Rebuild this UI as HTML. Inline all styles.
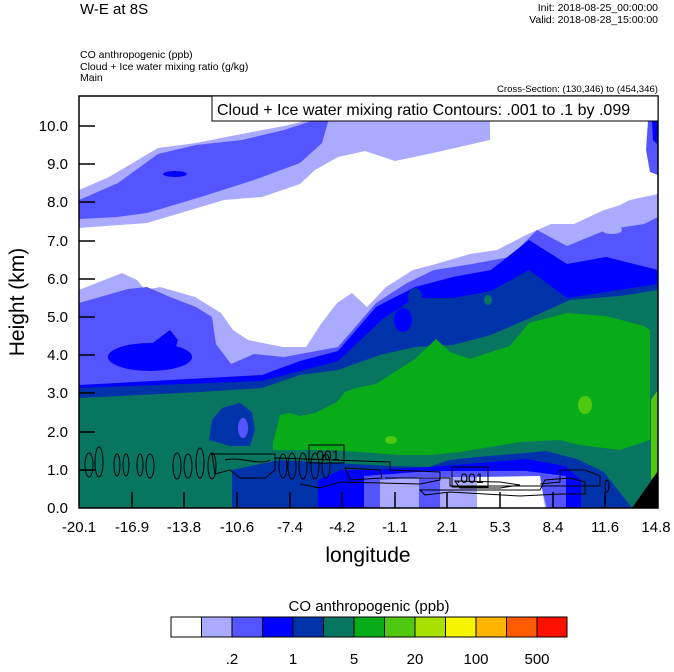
<!DOCTYPE html>
<html><head><meta charset="utf-8"><style>
body{margin:0;background:#fff;width:674px;height:667px;overflow:hidden}
svg text{font-family:"Liberation Sans",sans-serif}
</style></head><body>
<svg width="674" height="667" viewBox="0 0 674 667" xmlns="http://www.w3.org/2000/svg">
<defs><clipPath id="c"><rect x="79" y="96" width="579" height="412"/></clipPath></defs>
<g clip-path="url(#c)">
<rect x="79" y="96" width="579" height="412" fill="#fff"/>
<polygon fill="#aaaaff" points="79,190 109,177 158,148 196,143 231,136 284,126 330,115 490,115 490,140 433,153 395,161 365,151 338,157 315,170 300,184 262,197 224,200 147,223 79,228"/>
<polygon fill="#5555ff" points="79,200 118,183 158,154 196,145 242,140 284,130 330,115 322,143 300,163 254,180 204,196 147,213 117,217 79,219"/>
<ellipse cx="175" cy="174" rx="12" ry="3" fill="#0000ff"/>
<polygon fill="#aaaaff" points="658,194 630,200 610,210 610,230 658,230"/>
<polygon fill="#5555ff" points="648,121 658,121 658,175 650,172 646,150"/>
<polygon fill="#0000ff" points="652,121 658,121 658,145 653,140"/>
<polygon fill="#aaaaff" points="79,290 122,273 137,280 145,290 160,287 195,297 221,313 233,330 248,340 283,347 306,347 321,324 337,303 352,293 367,307 386,287 413,270 436,264 470,254 497,250 528,234 551,224 574,224 604,210 658,194 658,508 79,508"/>
<polygon fill="#5555ff" points="79,303 128,289 147,287 170,297 196,307 212,317 216,344 231,364 254,354 284,357 338,347 376,303 407,283 434,270 472,264 510,257 537,230 567,246 606,230 644,224 658,217 658,508 79,508"/>
<ellipse cx="612" cy="230" rx="10" ry="4" fill="#aaaaff"/>
<polygon fill="#0000ff" points="79,385 262,375 300,361 338,351 376,307 415,287 453,277 491,270 529,240 567,264 606,257 658,270 658,508 79,508"/>
<ellipse cx="150" cy="357" rx="42" ry="14" fill="#0000ff"/>
<polygon fill="#0000ff" points="150,345 170,330 178,340 172,360"/>
<polygon fill="#0033aa" points="79,388 262,381 338,361 384,318 415,298 453,298 491,291 529,270 567,298 658,284 658,508 79,508"/>
<ellipse cx="403" cy="320" rx="9" ry="12" fill="#0000ff"/>
<ellipse cx="415" cy="297" rx="7" ry="9" fill="#0033aa"/>
<polygon fill="#087560" points="79,398 200,392 262,388 300,375 338,370 380,355 415,347 453,345 491,335 530,318 570,300 620,296 658,290 658,508 79,508"/>
<ellipse cx="488" cy="300" rx="4" ry="5" fill="#087560"/>
<polygon fill="#0033aa" points="209,440 212,420 222,408 240,403 252,412 255,430 250,446 230,446"/>
<ellipse cx="243" cy="428" rx="5" ry="10" fill="#5555ff"/>
<polygon fill="#08ab18" points="273,443 280,415 290,413 300,416 315,413 337,402 345,392 356,388 376,384 415,359 436,339 450,352 470,359 491,352 510,346 529,323 567,313 606,316 644,326 650,330 650,440 620,450 580,445 560,440 520,442 490,447 460,452 430,455 400,455 360,452 330,450 300,450 273,450"/>
<ellipse cx="391" cy="440" rx="6" ry="4" fill="#50c810"/>
<ellipse cx="585" cy="405" rx="7" ry="9" fill="#50c810"/>
<polygon fill="#50c810" points="651,400 658,390 658,472 651,480"/>
<polygon fill="#0033aa" points="232,508 232,470 279,460 333,463 391,466 429,467 449,460 488,456 526,453 546,451 577,459 604,472 632,508"/>
<polygon fill="#0000ff" points="318,508 318,480 341,470 372,470 429,467 468,464 526,459 565,466 581,480 581,508"/>
<polygon fill="#5555ff" points="364,508 364,476 430,471 526,471 566,476 566,508"/>
<polygon fill="#aaaaff" points="380,508 380,480 422,477 461,477 539,479 547,508"/>
<rect x="419" y="478" width="21" height="30" fill="#5555ff"/>
<polygon fill="#fff" points="477,508 477,477 540,476 545,508"/>
<polygon fill="#000" points="632,508 658,471 658,508"/>
<g fill="none" stroke="#000" stroke-width="1">
<ellipse cx="89" cy="465" rx="4" ry="12"/><ellipse cx="99" cy="462" rx="4" ry="15"/>
<ellipse cx="117" cy="465" rx="3" ry="11"/><ellipse cx="126" cy="465" rx="3" ry="11"/>
<ellipse cx="140" cy="465" rx="3" ry="11"/><ellipse cx="150" cy="466" rx="4" ry="12"/>
<ellipse cx="177" cy="466" rx="4" ry="13"/><ellipse cx="188" cy="466" rx="4" ry="12"/><ellipse cx="200" cy="463" rx="4" ry="15"/>
<ellipse cx="212" cy="466" rx="4" ry="13"/>
<path d="M212,454 L275,454 L275,470 L265,478 L240,478 L230,470 L215,474 Z"/>
<path d="M225,460 C240,456 260,466 270,460"/>
<ellipse cx="283" cy="466" rx="4" ry="12"/><ellipse cx="292" cy="466" rx="4" ry="13"/><ellipse cx="303" cy="466" rx="4" ry="13"/>
<ellipse cx="315" cy="466" rx="4" ry="13"/><ellipse cx="326" cy="466" rx="4" ry="12"/>
<path d="M275,458 L390,462 L390,470 L440,472 L440,480 L420,484 L340,482 L320,488 L300,484"/>
<path d="M345,468 L380,470 L382,478 L350,480 Z"/>
<path d="M385,478 L450,478 L450,486 L600,486 L600,476 L585,470 L560,470 L560,482 L540,484"/>
<path d="M420,490 L540,490 L545,480 L570,478 L585,482 L585,494 L560,494 L520,496 L450,492 L425,495 Z"/>
<path d="M455,481 L500,482 L520,485 L500,488 L460,488 Z"/>
<ellipse cx="607" cy="486" rx="2" ry="6"/>
</g>
<rect x="309" y="445" width="35" height="18" fill="none" stroke="#000"/>
<text x="326" y="460" font-size="14" text-anchor="middle">.001</text>
<rect x="452" y="467" width="36" height="20" fill="none" stroke="#000"/>
<text x="470" y="483" font-size="14" text-anchor="middle">.001</text>
</g>
<rect x="79" y="96" width="579" height="412" fill="none" stroke="#000" stroke-width="1.5"/>
<rect x="212" y="96" width="446" height="25" fill="#fff" stroke="#000" stroke-width="1"/>
<text x="217" y="115" font-size="16">Cloud + Ice water mixing ratio Contours: .001 to .1 by .099</text>
<g stroke="#000" stroke-width="1.5">
<line x1="79" y1="470" x2="95" y2="470"/><line x1="79" y1="432" x2="95" y2="432"/><line x1="79" y1="393" x2="95" y2="393"/>
<line x1="79" y1="355" x2="95" y2="355"/><line x1="79" y1="317" x2="95" y2="317"/><line x1="79" y1="279" x2="95" y2="279"/>
<line x1="79" y1="241" x2="95" y2="241"/><line x1="79" y1="202" x2="95" y2="202"/><line x1="79" y1="164" x2="95" y2="164"/><line x1="79" y1="126" x2="95" y2="126"/>
<line x1="132" y1="508" x2="132" y2="492"/><line x1="184" y1="508" x2="184" y2="492"/><line x1="237" y1="508" x2="237" y2="492"/>
<line x1="290" y1="508" x2="290" y2="492"/><line x1="342" y1="508" x2="342" y2="492"/><line x1="395" y1="508" x2="395" y2="492"/>
<line x1="447" y1="508" x2="447" y2="492"/><line x1="500" y1="508" x2="500" y2="492"/><line x1="553" y1="508" x2="553" y2="492"/><line x1="605" y1="508" x2="605" y2="492"/>
</g>
<g font-size="15" text-anchor="end">
<text x="68" y="513">0.0</text><text x="68" y="475">1.0</text><text x="68" y="437">2.0</text><text x="68" y="398">3.0</text>
<text x="68" y="360">4.0</text><text x="68" y="322">5.0</text><text x="68" y="284">6.0</text><text x="68" y="246">7.0</text>
<text x="68" y="207">8.0</text><text x="68" y="169">9.0</text><text x="68" y="131">10.0</text>
</g>
<g font-size="15" text-anchor="middle">
<text x="79" y="532">-20.1</text><text x="132" y="532">-16.9</text><text x="184" y="532">-13.8</text><text x="237" y="532">-10.6</text>
<text x="290" y="532">-7.4</text><text x="342" y="532">-4.2</text><text x="395" y="532">-1.1</text><text x="447" y="532">2.1</text>
<text x="500" y="532">5.3</text><text x="553" y="532">8.4</text><text x="605" y="532">11.6</text><text x="656" y="532">14.8</text>
</g>
<text x="368" y="562" font-size="21" text-anchor="middle">longitude</text>
<text transform="translate(24,302) rotate(-90)" font-size="21" text-anchor="middle">Height (km)</text>
<text x="80" y="14" font-size="15">W-E at 8S</text>
<text x="658" y="11" font-size="10.5" text-anchor="end">Init: 2018-08-25_00:00:00</text>
<text x="658" y="23" font-size="10.5" text-anchor="end">Valid: 2018-08-28_15:00:00</text>
<text x="80" y="58" font-size="10.5">CO anthropogenic   (ppb)</text>
<text x="80" y="70" font-size="10.5">Cloud + Ice water mixing ratio   (g/kg)</text>
<text x="80" y="81" font-size="10.5">Main</text>
<text x="658" y="92" font-size="9.6" text-anchor="end">Cross-Section: (130,346) to (454,346)</text>
<text x="369" y="611" font-size="15" text-anchor="middle">CO anthropogenic  (ppb)</text>
<g stroke="#000" stroke-width="1">
<rect x="171" y="617" width="30.5" height="20" fill="#fff"/>
<rect x="201.5" y="617" width="30.5" height="20" fill="#aaaaff"/>
<rect x="232" y="617" width="30.5" height="20" fill="#5555ff"/>
<rect x="262.5" y="617" width="30.5" height="20" fill="#0000ff"/>
<rect x="293" y="617" width="30.5" height="20" fill="#0033aa"/>
<rect x="323.5" y="617" width="30.5" height="20" fill="#087560"/>
<rect x="354" y="617" width="30.5" height="20" fill="#08ab18"/>
<rect x="384.5" y="617" width="30.5" height="20" fill="#50c810"/>
<rect x="415" y="617" width="30.5" height="20" fill="#a8e000"/>
<rect x="445.5" y="617" width="30.5" height="20" fill="#f5f500"/>
<rect x="476" y="617" width="30.5" height="20" fill="#ffb400"/>
<rect x="506.5" y="617" width="30.5" height="20" fill="#ff5a00"/>
<rect x="537" y="617" width="30" height="20" fill="#ff1000"/>
</g>
<g font-size="15" text-anchor="middle">
<text x="232" y="664">.2</text><text x="293" y="664">1</text><text x="354" y="664">5</text>
<text x="415" y="664">20</text><text x="476" y="664">100</text><text x="537" y="664">500</text>
</g>
</svg>
</body></html>
